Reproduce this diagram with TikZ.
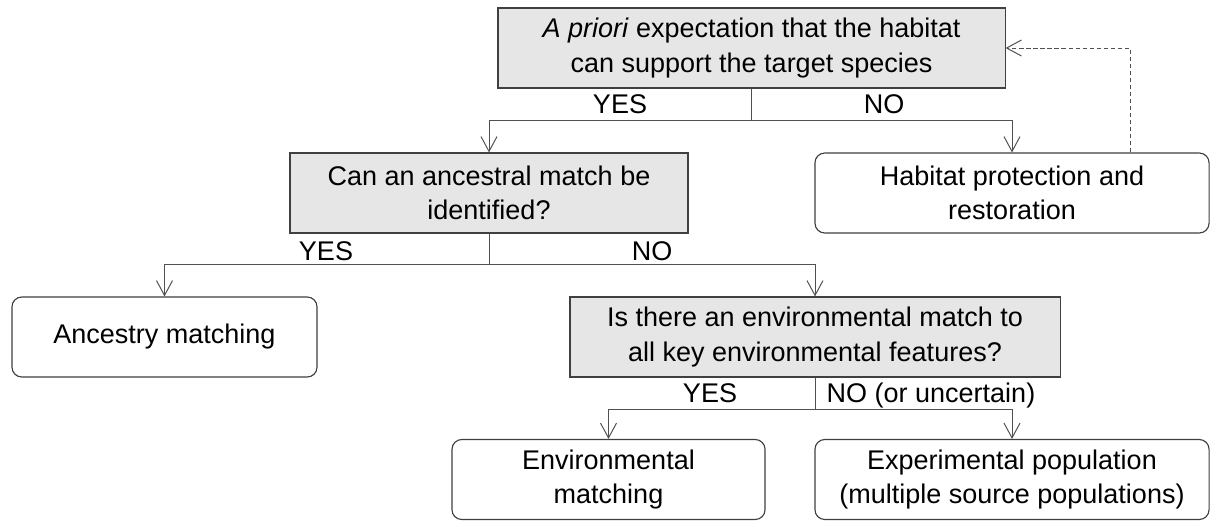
\documentclass[tikz,border=0pt]{standalone}
\usepackage{fontspec}
\setsansfont{Liberation Sans}
\usepackage{xcolor}
\usepackage{tikz}
\usetikzlibrary{arrows.meta}
\definecolor{flowborder}{HTML}{404040}
\definecolor{flowline}{HTML}{505050}
\definecolor{flowfill}{HTML}{E6E6E6}

\begin{document}
\begin{tikzpicture}[
  x=0.025cm,y=-0.025cm,
  font=\sffamily\fontsize{19.2pt}{24.5pt}\selectfont,
  quest/.style={draw=flowborder,line width=0.8pt,fill=flowfill,align=center,inner sep=0pt,minimum height=2cm},
  outc/.style={draw=flowborder,line width=0.8pt,fill=white,rounded corners=7pt,align=center,inner sep=0pt,minimum height=2cm},
  lbl/.style={inner sep=0pt,anchor=base},
  fl/.style={-{Straight Barb[length=3.7mm,width=4mm]},draw=flowline,line width=0.7pt},
  back/.style={fl,dash pattern=on 3pt off 2pt}
]
\useasboundingbox (0,0) rectangle (1223,521);
\node[quest,minimum width=12.675cm] (prior) at (751.5,48) {\textit{A priori} expectation that the habitat\\can support the target species};
\node[quest,minimum width=9.95cm] (ancq) at (489,193) {Can an ancestral match be\\identified?};
\node[outc,minimum width=9.85cm] (hab) at (1012,193) {Habitat protection and\\restoration};
\node[outc,minimum width=7.625cm] (anc) at (164.5,337) {Ancestry matching};
\node[quest,minimum width=12.25cm] (envq) at (815,337) {Is there an environmental match to\\all key environmental features?};
\node[outc,minimum width=7.825cm] (env) at (608.5,479.5) {Environmental\\matching};
\node[outc,minimum width=9.85cm] (exp) at (1012,479.5) {Experimental population\\(multiple source populations)};
\coordinate (ret) at (1130,48);

\node[lbl] (yes1) at (620,113) {YES};
\node[lbl] (no1) at (884,113) {NO};
\node[lbl] (yes2) at (326,260) {YES};
\node[lbl] (no2) at (652,260) {NO};
\node[lbl] (yes3) at (710,402) {YES};
\node[lbl] (no3) at (931,402) {NO (or uncertain)};

\draw[fl] (prior.south) -- ++(0,32) -| (ancq.north);
\draw[fl] (prior.south) -- ++(0,32) -| (hab.north);
\draw[back] (hab.north -| ret) -- (ret) -- (prior.east);
\draw[fl] (ancq.south) -- ++(0,31) -| (anc.north);
\draw[fl] (ancq.south) -- ++(0,31) -| (envq.north);
\draw[fl] (envq.south) -- ++(0,32) -| (env.north);
\draw[fl] (envq.south) -- ++(0,32) -| (exp.north);
\end{tikzpicture}
\end{document}
